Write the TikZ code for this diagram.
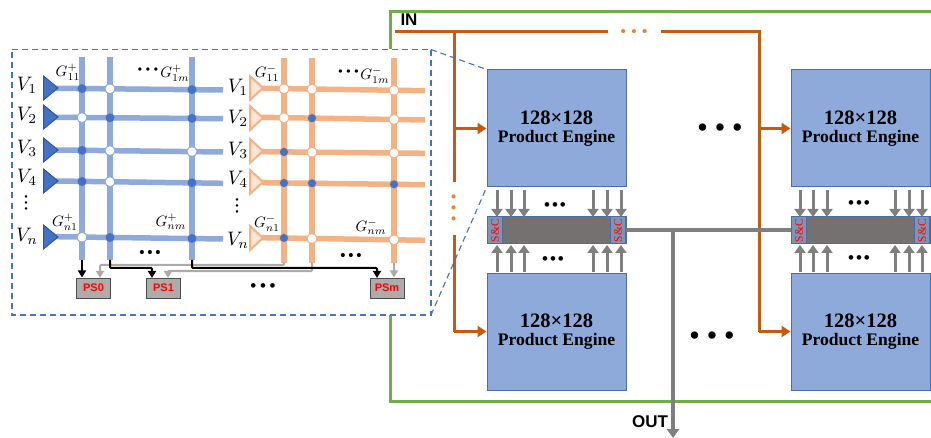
\documentclass[tikz,border=0pt]{standalone}
\usepackage{fontspec}
\usetikzlibrary{arrows.meta,calc}
\newfontfamily\engfont{Liberation Serif}
\newfontfamily\labfont{Liberation Sans}
\newcommand{\tdots}[1]{{\labfont\textbullet\kern#1\textbullet\kern#1\textbullet}}
\newcommand{\englabel}{{\engfont\bfseries\fontsize{20.5}{20}\selectfont 128×128}\\[5pt]{\engfont\bfseries\fontsize{17.6}{20}\selectfont Product Engine}}
\definecolor{engblue}{HTML}{8EAADB}
\definecolor{engedge}{HTML}{4A6DA7}
\definecolor{dotblue}{HTML}{4472C4}
\definecolor{triedge}{HTML}{2F5597}
\definecolor{gridor}{HTML}{F4B183}
\definecolor{trior}{HTML}{FBE5D6}
\definecolor{feedor}{HTML}{C55A11}
\definecolor{dotor}{HTML}{ED7D31}
\definecolor{framegreen}{HTML}{70AD47}
\definecolor{bargray}{HTML}{767171}
\definecolor{arrgray}{HTML}{7F7F7F}
\definecolor{lightg}{HTML}{AEAAAA}
\definecolor{psfill}{HTML}{AFABAB}
\definecolor{scfill}{HTML}{7F93B3}
\tikzset{
  engine/.style={draw=engedge,fill=engblue,line width=1pt,minimum width=139pt,minimum height=117pt,inner sep=0pt,align=center,text=black},
  barbox/.style={draw=engedge,fill=bargray,line width=1pt,minimum width=139pt,minimum height=27pt,inner sep=0pt},
  scbox/.style={draw=engedge,fill=scfill,line width=1pt,minimum width=15.5pt,minimum height=27pt,inner sep=0pt},
  sclabel/.style={rotate=90,text=red,font=\engfont\fontsize{11.5}{11.5}\selectfont,inner sep=0pt},
  psbox/.style={draw=black!70,fill=psfill,line width=1pt,minimum width=34pt,minimum height=20pt,inner sep=0pt,text=red,font=\labfont\bfseries\fontsize{11}{11}\selectfont},
  bluewire/.style={draw=engblue,line width=5.5pt},
  orwire/.style={draw=gridor,line width=5.5pt},
  bluetri/.style={draw=triedge,fill=dotblue,line width=1pt,line join=miter},
  ortri/.style={draw=gridor,fill=trior,line width=2pt,line join=miter},
  fd/.style={circle,fill=dotblue,minimum size=9pt,inner sep=0pt},
  fo/.style={circle,fill=dotblue,draw=gridor,line width=0.6pt,minimum size=9pt,inner sep=0pt},
  ob/.style={circle,fill=white,draw=engblue,line width=1pt,minimum size=10pt,inner sep=0pt},
  oo/.style={circle,fill=white,draw=gridor,line width=1pt,minimum size=10pt,inner sep=0pt},
  vlab/.style={inner sep=0pt,scale=1.95},
  glab/.style={inner sep=0pt,scale=1.5},
  feed/.style={draw=feedor,line width=3pt},
  feedarrow/.style={feed,-{Triangle[length=9pt,width=11pt]}},
  busarrow/.style={draw=arrgray,line width=3pt,-{Triangle[length=8pt,width=11pt]}},
  busline/.style={draw=arrgray,line width=4pt},
  blk/.style={draw=black,line width=2pt,rounded corners=1pt,-{Triangle[length=7pt,width=8pt]}},
  gry/.style={draw=lightg,line width=2pt,rounded corners=1pt,-{Triangle[length=7pt,width=8pt]}},
  zoomline/.style={draw=dotblue,line width=1.1pt,dash pattern=on 6pt off 4pt},
  bdots/.style={inner sep=0pt,text=black},
  odots/.style={inner sep=0pt,text=dotor},
}
\begin{document}
\begin{tikzpicture}[x=1pt,y=-1pt]
\useasboundingbox (0,0) rectangle (931,438);
% green frame
\coordinate (gA) at (390,49);
\coordinate (gB) at (390,12);
\coordinate (gC) at (931,12);
\coordinate (gD) at (390,315);
\coordinate (gE) at (390,401);
\coordinate (gF) at (931,401);
\draw[framegreen,line width=3pt,line join=miter] (gA) -- (gB) -- (gC);
\draw[framegreen,line width=3pt,line join=miter] (gD) -- (gE) -- (gF);

% engines
\node[engine] (eTL) at (556.5,128.5) {\englabel};
\node[engine] (eBL) at (556.5,331.5) {\englabel};
\node[engine] (eTR) at (860.5,128.5) {\englabel};
\node[engine] (eBR) at (860.5,331.5) {\englabel};

% orange feed
\coordinate (inA) at (395,32);
\coordinate (inB) at (608,32);
\coordinate (inC) at (661,32);
\coordinate (inD) at (759,32);
\coordinate (fL) at (454,32);
\coordinate (fLa) at (454,182);
\coordinate (fLb) at (454,235);
\draw[feed] (inA) -- (inB);
\draw[feed] (inC) -- (inD) -- (inD |- eBR.center);
\draw[feed] (fL) -- (fLa);
\draw[feed] (fLb) -- (fLb |- eBL.center);
\draw[feedarrow] (fL |- eTL.center) -- (eTL.west);
\draw[feedarrow] (fL |- eBL.center) -- (eBL.west);
\draw[feedarrow] (inD |- eTR.center) -- (eTR.west);
\draw[feedarrow] (inD |- eBR.center) -- (eBR.west);
\node[odots,font=\fontsize{15}{15}\selectfont] (odH) at (634,33) {\tdots{5.4pt}};
\node[odots,font=\fontsize{15}{15}\selectfont,rotate=90] (odV) at (455,208) {\tdots{5.4pt}};

% bars
\node[barbox] (barL) at (556.5,230.5) {};
\node[barbox] (barR) at (860.5,230.5) {};
\node[scbox] (sL1) at (495,230.5) {};
\node[scbox] (sL2) at (618,230.5) {};
\node[scbox] (sR1) at (799,230.5) {};
\node[scbox] (sR2) at (922,230.5) {};
\foreach \n in {sL1,sL2,sR1,sR2} \node[sclabel] at (\n.center) {S\&C};

% bus arrows
\foreach \x/\i in {497/1,511/2,524/3,593/4,607/5,621/6,800/7,813/8,827/9,895/10,909/11,922/12}{
  \coordinate (t\i) at (\x,190);
  \coordinate (u\i) at (\x,272);
  \draw[busarrow] (t\i) -- (\x,217);
  \draw[busarrow] (u\i) -- (\x,245);
}
\node[bdots,font=\fontsize{17}{17}\selectfont] (dA) at (555,207) {\tdots{2pt}};
\node[bdots,font=\fontsize{17}{17}\selectfont] (dB) at (553,261) {\tdots{2pt}};
\node[bdots,font=\fontsize{17}{17}\selectfont] (dC) at (859,205) {\tdots{2pt}};
\node[bdots,font=\fontsize{17}{17}\selectfont] (dD) at (859,260) {\tdots{2pt}};
\node[bdots,font=\fontsize{27}{27}\selectfont] (dE) at (720,130) {\tdots{8pt}};
\node[bdots,font=\fontsize{27}{27}\selectfont] (dF) at (712,338) {\tdots{8pt}};

% output
\coordinate (outT) at (673,231);
\coordinate (outB) at (673,438);
\draw[busline] (sL2.east) -- (sR1.west);
\draw[draw=arrgray,line width=4pt,-{Triangle[length=9pt,width=12pt]}] (outT) -- (outB);
\node[inner sep=0pt,font=\labfont\bfseries\fontsize{17}{17}\selectfont] (inL) at (409,20) {IN};
\node[inner sep=0pt,font=\labfont\bfseries\fontsize{17}{17}\selectfont] (outL) at (650,422) {OUT};

% blue crossbar
\foreach \x in {82,110,192} \draw[bluewire] (\x,57) -- (\x,260);
\foreach \a/\b in {88.3/90,117.3/118.7,150/152,181/183.3,236.7/239} \draw[bluewire] (56,\a) -- (223,\b);
\foreach \y in {88,117,150,181,237}
  \draw[bluetri] (43.5,\y-12) -- (58,\y) -- (43.5,\y+12) -- cycle;
\foreach \x/\y/\k in {82/88.6/fd,110/88.8/ob,192/89.6/fd,
  82/117.6/ob,110/117.8/fd,192/118.4/fd,
  82/150.4/fd,110/150.6/ob,192/151.6/ob,
  82/181.5/fd,110/181.7/ob,192/182.8/fd,
  82/237.2/ob,110/237.5/fd,192/238.5/fd}
  \node[\k] at (\x,\y) {};

% orange crossbar
\foreach \x in {284,312,394} \draw[orwire] (\x,58) -- (\x,263);
\foreach \a/\b in {88.3/90.7,117.3/120,151.7/153.3,182.7/184.7,237.7/240.3} \draw[orwire] (262,\a) -- (425,\b);
\foreach \y in {88,118,151,182,238}
  \draw[ortri] (250,\y-12) -- (263,\y) -- (250,\y+12) -- cycle;
\foreach \x/\y/\k in {284/88.8/oo,312/89.1/oo,394/90.3/oo,
  284/117.8/oo,312/118.2/fo,394/119.5/oo,
  284/152/fo,312/152.2/oo,394/153/oo,
  284/183/fo,312/183.3/fo,394/184.3/fo,
  284/238/fo,312/238.5/oo,394/239.8/oo}
  \node[\k] at (\x,\y) {};

% PS boxes
\node[psbox] (ps0) at (93.5,288) {PS0};
\node[psbox] (ps1) at (163.5,288) {PS1};
\node[psbox] (psm) at (387,288) {PSm};
\coordinate (c1) at (82,260);
\coordinate (c2) at (110,260);
\coordinate (c3) at (192,260);
\coordinate (c4) at (284,263);
\coordinate (c5) at (312,263);
\coordinate (c6) at (394,263);
\draw[gry] (c4) -- (284,265) -- (100,265) -- (100,278);
\draw[gry] (c5) -- (312,271) -- (168,271) -- (168,278);
\draw[blk] (c2) -- (110,268) -- (152,268) -- (152,278);
\draw[blk] (c3) -- (192,268) -- (377,268) -- (377,278);
\draw[blk,line width=2.5pt] (c1) -- (c1 |- ps0.north);
\draw[gry,line width=2.5pt] (c6) -- (c6 |- psm.north);

% labels
\node[vlab] (v1) at (27,85) {$V_1$};
\node[vlab] (v2) at (27,115) {$V_2$};
\node[vlab] (v3) at (27,148) {$V_3$};
\node[vlab] (v4) at (27,177) {$V_4$};
\node[bdots,font=\fontsize{9}{9}\selectfont,rotate=90] (vd) at (27,203) {\tdots{2.9pt}};
\node[vlab] (vn) at (27,236) {$V_n$};
\node[vlab] (w1) at (238,87) {$V_1$};
\node[vlab] (w2) at (238,118) {$V_2$};
\node[vlab] (w3) at (238,150) {$V_3$};
\node[vlab] (w4) at (238,179) {$V_4$};
\node[bdots,font=\fontsize{9}{9}\selectfont,rotate=90] (wd) at (238,206) {\tdots{2.9pt}};
\node[vlab] (wn) at (238,240) {$V_n$};
\node[glab] (g1) at (68,72) {$G_{11}^{+}$};
\node[glab] (g2) at (175,73) {$G_{1m}^{+}$};
\node[bdots,font=\fontsize{12}{12}\selectfont] (g2d) at (148,71) {\tdots{3.8pt}};
\node[glab] (g3) at (65,222) {$G_{n1}^{+}$};
\node[glab] (g4) at (171,222) {$G_{nm}^{+}$};
\node[glab] (h1) at (267,73) {$G_{11}^{-}$};
\node[glab] (h2) at (375,75) {$G_{1m}^{-}$};
\node[bdots,font=\fontsize{12}{12}\selectfont] (h2d) at (348.5,73) {\tdots{3.8pt}};
\node[glab] (h3) at (267,223) {$G_{n1}^{-}$};
\node[glab] (h4) at (371,227) {$G_{nm}^{-}$};
\node[bdots,font=\fontsize{15}{15}\selectfont] (d1) at (150,254) {\tdots{2.7pt}};
\node[bdots,font=\fontsize{15}{15}\selectfont] (d2) at (351,257) {\tdots{2.7pt}};
\node[bdots,font=\fontsize{17}{17}\selectfont] (d3) at (263,288) {\tdots{3.7pt}};

% zoom box
\coordinate (zA) at (12,49.5);
\coordinate (zB) at (431,49.5);
\coordinate (zC) at (431,315);
\coordinate (zD) at (12,315);
\draw[zoomline] (zA) -- (zB) -- (zC) -- (zD) -- cycle;
\draw[zoomline] (zB) -- (eTL.north west);
\draw[zoomline] (zC) -- (eTL.south west);
\end{tikzpicture}
\end{document}
